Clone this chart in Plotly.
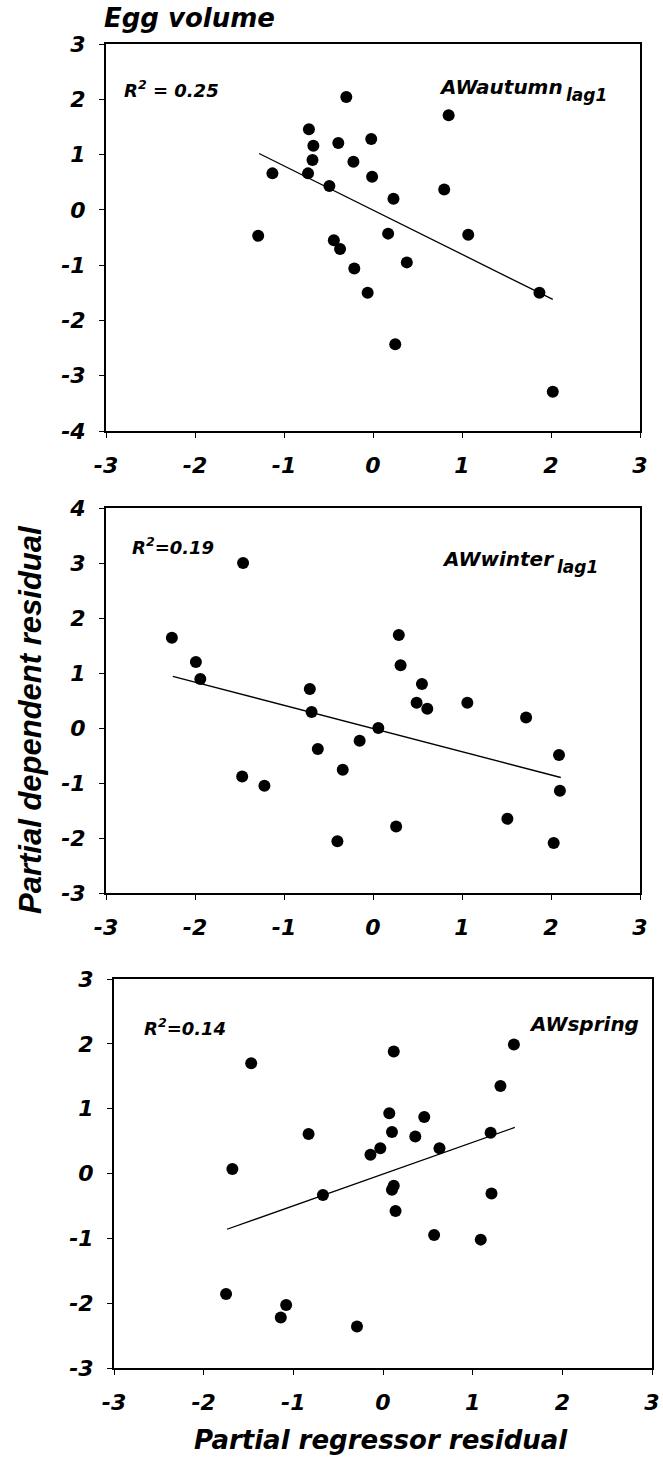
import plotly.graph_objects as go

# ---------------- data ----------------
x_ticks = [-3, -2, -1, 0, 1, 2, 3]
y1_ticks = [-4, -3, -2, -1, 0, 1, 2, 3]
y2_ticks = [-3, -2, -1, 0, 1, 2, 3, 4]
y3_ticks = [-3, -2, -1, 0, 1, 2, 3]

p1_x = [-0.30, 0.85, -0.72, -0.67, -0.39, -0.02, -0.68, -0.22, -1.13, -0.73, -0.01, -0.49, 0.80,
        0.23, -1.29, 0.17, 1.07, -0.44, -0.37, 0.38, -0.21, -0.06, 1.87, 0.25, 2.02]
p1_y = [2.04, 1.71, 1.46, 1.16, 1.21, 1.28, 0.90, 0.87, 0.66, 0.66, 0.60, 0.43, 0.37,
        0.20, -0.47, -0.43, -0.45, -0.55, -0.71, -0.95, -1.06, -1.50, -1.50, -2.43, -3.29]
p1_fit_x = [-1.28, 2.02]
p1_fit_y = [1.02, -1.62]

p2_x = [-1.46, -2.26, -1.99, -1.94, 0.29, 0.31, -0.71, 0.55, 0.49, 0.61, 1.06, 1.72, -0.69,
        0.06, -0.62, -0.15, -0.34, -1.47, -1.22, 2.09, 2.10, 1.51, 0.26, -0.40, 2.03]
p2_y = [3.00, 1.64, 1.20, 0.89, 1.69, 1.14, 0.71, 0.80, 0.46, 0.35, 0.46, 0.19, 0.29,
        0.00, -0.38, -0.23, -0.76, -0.88, -1.05, -0.49, -1.14, -1.65, -1.79, -2.06, -2.09]
p2_fit_x = [-2.25, 2.11]
p2_fit_y = [0.94, -0.90]

p3_x = [1.46, 0.12, -1.47, 1.31, 0.07, 0.46, 0.10, -0.83, 1.20, 0.36, -0.03, 0.63, -0.14,
        -1.68, -0.67, 0.12, 0.10, 1.21, 0.14, 0.57, 1.09, -1.75, -1.08, -1.14, -0.29]
p3_y = [1.99, 1.88, 1.70, 1.35, 0.93, 0.87, 0.64, 0.61, 0.63, 0.57, 0.39, 0.39, 0.29,
        0.07, -0.33, -0.19, -0.25, -0.31, -0.58, -0.95, -1.02, -1.86, -2.03, -2.22, -2.36]
p3_fit_x = [-1.74, 1.47]
p3_fit_y = [-0.86, 0.71]

r2_labels = ["R<sup>2</sup> = 0.25", "R<sup>2</sup>=0.19", "R<sup>2</sup>=0.14"]
var_labels = ["AWautumn", "AWwinter", "AWspring"]
var_subs = ["lag1", "lag1", ""]
title_text = "Egg volume"
x_title = "Partial regressor residual"
y_title = "Partial dependent residual"

# ---------------- figure ----------------
W, H = 663, 1461
FONT = "DejaVu Sans"


def px(x):
    return x / W


def py(y):
    return 1 - y / H


fig = go.Figure()

panels = [
    (p1_x, p1_y, p1_fit_x, p1_fit_y, "x", "y"),
    (p2_x, p2_y, p2_fit_x, p2_fit_y, "x2", "y2"),
    (p3_x, p3_y, p3_fit_x, p3_fit_y, "x3", "y3"),
]
for xs, ys, fx, fy, xa, ya in panels:
    fig.add_trace(go.Scatter(x=fx, y=fy, mode="lines", xaxis=xa, yaxis=ya,
                             line=dict(color="black", width=1.3), showlegend=False,
                             hoverinfo="skip"))
    fig.add_trace(go.Scatter(x=xs, y=ys, mode="markers", xaxis=xa, yaxis=ya,
                             marker=dict(color="black", size=12, line=dict(width=0)),
                             showlegend=False))

tickfont = dict(family=FONT, size=22, color="black", weight="bold", style="italic")


def xaxis(domain, anchor):
    return dict(domain=domain, anchor=anchor, range=[-3, 3], tickmode="array",
                tickvals=x_ticks, ticktext=[str(v) for v in x_ticks],
                showgrid=False, zeroline=False, showline=True, linecolor="black",
                linewidth=2, mirror=True, ticks="outside", ticklen=5, tickwidth=1,
                tickcolor="black", tickfont=tickfont, ticklabelstandoff=9,
                automargin=False, fixedrange=True)


def yaxis(domain, anchor, rng, ticks):
    return dict(domain=domain, anchor=anchor, range=rng, tickmode="array",
                tickvals=ticks, ticktext=[str(v) for v in ticks],
                showgrid=False, zeroline=False, showline=True, linecolor="black",
                linewidth=2, mirror=True, ticks="outside", ticklen=5, tickwidth=1,
                tickcolor="black", tickfont=tickfont, ticklabelstandoff=9,
                automargin=False, fixedrange=True)


fig.update_layout(
    width=W, height=H,
    margin=dict(l=0, r=0, t=0, b=0),
    paper_bgcolor="white", plot_bgcolor="white",
    xaxis=xaxis([px(106), px(640)], "y"),
    yaxis=yaxis([py(431), py(44)], "x", [-4, 3], y1_ticks),
    xaxis2=xaxis([px(106), px(640)], "y2"),
    yaxis2=yaxis([py(893), py(508)], "x2", [-3, 4], y2_ticks),
    xaxis3=xaxis([px(114), px(652)], "y3"),
    yaxis3=yaxis([py(1368), py(979)], "x3", [-3, 3], y3_ticks),
)

ann_font = dict(family=FONT, color="black", weight="bold", style="italic")

annotations = []
# title
annotations.append(dict(text=title_text, x=px(102), y=py(18), xref="paper", yref="paper",
                        xanchor="left", yanchor="middle", showarrow=False,
                        font=dict(ann_font, size=26)))
# axis titles
annotations.append(dict(text=x_title, x=px(381), y=py(1440), xref="paper", yref="paper",
                        xanchor="center", yanchor="middle", showarrow=False,
                        font=dict(ann_font, size=26)))
annotations.append(dict(text=y_title, x=px(30), y=py(720), xref="paper", yref="paper",
                        xanchor="center", yanchor="middle", showarrow=False, textangle=-90,
                        font=dict(ann_font, family="Liberation Sans", size=31)))

r2_pos = [(122, 89), (130, 546), (142, 1027)]
var_pos = [(565, 87), (556, 559), (641, 1024)]
for i in range(3):
    annotations.append(dict(text=r2_labels[i], x=px(r2_pos[i][0]), y=py(r2_pos[i][1]),
                            xref="paper", yref="paper", xanchor="left", yanchor="middle",
                            showarrow=False, font=dict(ann_font, size=18)))
    annotations.append(dict(text=var_labels[i], x=px(var_pos[i][0]), y=py(var_pos[i][1]),
                            xref="paper", yref="paper", xanchor="right", yanchor="middle",
                            showarrow=False, font=dict(ann_font, size=20)))
    if var_subs[i]:
        annotations.append(dict(text=var_subs[i], x=px(var_pos[i][0] - 1),
                                y=py(var_pos[i][1] + 8),
                                xref="paper", yref="paper", xanchor="left", yanchor="middle",
                                showarrow=False, font=dict(ann_font, size=17)))

fig.update_layout(annotations=annotations)

fig.write_html("out.html")
